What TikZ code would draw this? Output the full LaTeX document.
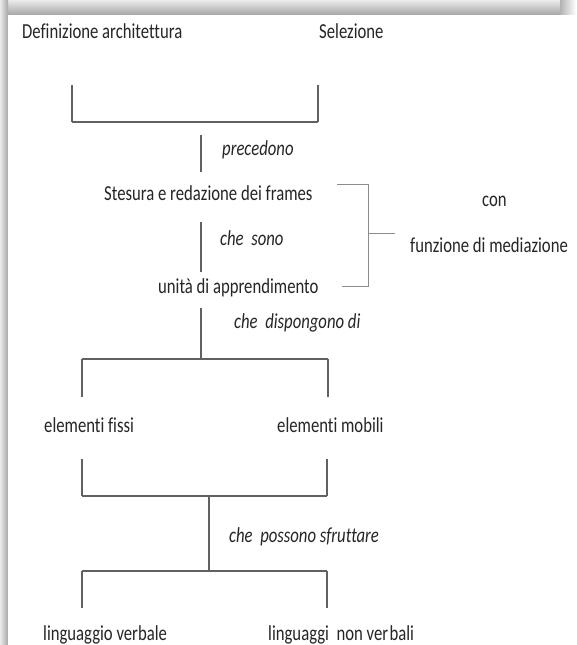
\documentclass[tikz,border=0pt]{standalone}
\usepackage{fontspec}
\setmainfont[Ligatures=NoCommon]{Carlito}
\newcommand{\tallt}[1]{\scalebox{1}[1.28]{#1}}
\begin{document}
\begin{tikzpicture}[x=1pt,y=-1pt,
  lbl/.style={anchor=west,inner sep=0pt,font=\fontsize{16.7}{20}\selectfont,text=black!85},
  itl/.style={lbl,font=\fontsize{16.7}{20}\selectfont\itshape},
  conn/.style={draw=black!62,line width=1.5pt},
  hbar/.style={draw=black!62,line width=2.4pt},
  thin/.style={draw=black!45,line width=1pt}]
\useasboundingbox (0,0) rectangle (576,645);
\fill[white] (0,0) rectangle (576,645);
% shadow frame (top and left)
\shade[top color=black!8,bottom color=black!35] (0,0) rectangle (566,15);
\shade[left color=black!8,right color=black!35] (0,0) rectangle (8,645);
\shade[left color=black!30,right color=white] (560,0) rectangle (576,15);
\fill[white] (8,15) rectangle (576,645);
% texts
\node[lbl] (defarch) at (22,31) {\tallt{Definizione architettura}};
\node[lbl] (sel) at (319,31) {\tallt{Selezione}};
\node[itl] (prec) at (222,150) {\tallt{precedono}};
\node[lbl] (stes) at (104,193) {\tallt{Stesura e redazione dei frames}};
\node[lbl] (con) at (482,201) {\tallt{con}};
\node[lbl] (funz) at (410,245) {\tallt{funzione di mediazione}};
\node[itl] (sono) at (220,238) {\tallt{che\ \ sono}};
\node[lbl] (unita) at (158,288) {\tallt{unità di apprendimento}};
\node[itl] (disp) at (234,323) {\tallt{che\ \ dispongono di}};
\node[lbl] (fissi) at (44,425) {\tallt{elementi fissi}};
\node[lbl] (mobili) at (277,425) {\tallt{elementi mobili}};
\node[itl] (sfrut) at (229,537) {\tallt{che\ \ possono sfruttare}};
\node[lbl] (verb) at (43,635) {\tallt{linguaggio verbale}};
\node[lbl] (nonverb) at (268,635) {\tallt{linguaggi\ \ non ver\hspace{1.5pt}bali}};
% coordinates
\coordinate (b1l) at (72,85); \coordinate (b1r) at (318,85);
\coordinate (b1bl) at (72,122); \coordinate (b1br) at (318,122);
\coordinate (p1) at (201,135); \coordinate (p2) at (201,172);
\coordinate (s1) at (201,222); \coordinate (s2) at (201,272);
\coordinate (d1) at (201,308); \coordinate (d2) at (201,359);
\coordinate (h1l) at (82,359); \coordinate (h1r) at (328,359);
\coordinate (h1lb) at (82,397); \coordinate (h1rb) at (328,397);
\coordinate (h2lt) at (82,459); \coordinate (h2rt) at (327,459);
\coordinate (h2l) at (82,496); \coordinate (h2r) at (327,496);
\coordinate (m1) at (209,496); \coordinate (m2) at (209,571);
\coordinate (h3l) at (82,571); \coordinate (h3r) at (327,571);
\coordinate (h3lb) at (82,608); \coordinate (h3rb) at (327,608);
\coordinate (rb1) at (337,184); \coordinate (rb2) at (368,184);
\coordinate (rb3) at (368,286); \coordinate (rb4) at (342,286);
\coordinate (rt1) at (368,233); \coordinate (rt2) at (395,233);
% connectors
\draw[conn] (b1l) -- (b1bl);
\draw[conn] (b1r) -- (b1br);
\draw[hbar] (b1bl) -- (b1br);
\draw[conn] (p1) -- (p2);
\draw[conn] (s1) -- (s2);
\draw[conn] (d1) -- (d2);
\draw[hbar] (h1l) -- (h1r);
\draw[conn] (h1l) -- (h1lb);
\draw[conn] (h1r) -- (h1rb);
\draw[conn] (h2lt) -- (h2l);
\draw[conn] (h2rt) -- (h2r);
\draw[hbar] (h2l) -- (h2r);
\draw[conn] (m1) -- (m2);
\draw[hbar] (h3l) -- (h3r);
\draw[conn] (h3l) -- (h3lb);
\draw[conn] (h3r) -- (h3rb);
\draw[thin] (rb1) -- (rb2) -- (rb3) -- (rb4);
\draw[thin] (rt1) -- (rt2);
\end{tikzpicture}
\end{document}
